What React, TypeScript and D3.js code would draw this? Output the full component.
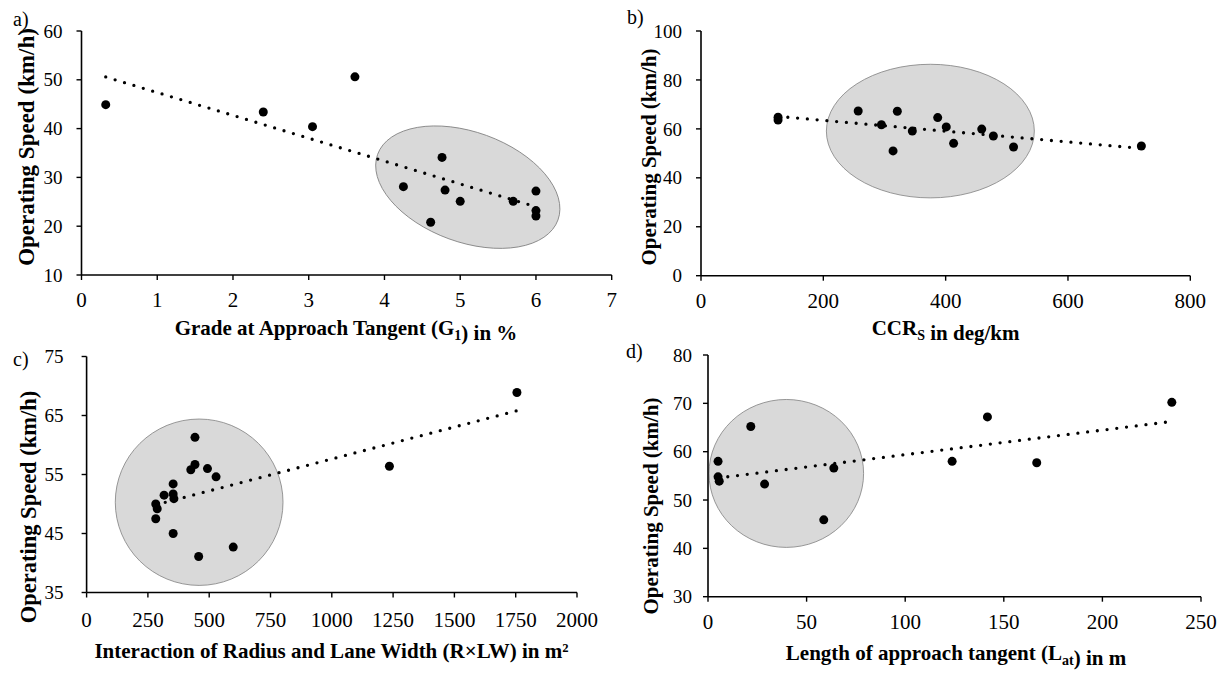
import React from 'react';
import * as d3 from 'd3';

// ---------- data ----------
const gradeX = [0.32, 2.4, 3.05, 3.61, 4.25, 4.76, 4.8, 4.61, 5.0, 5.7, 6.0, 6.0, 6.0];
const gradeY = [44.9, 43.4, 40.4, 50.6, 28.1, 34.1, 27.4, 20.8, 25.1, 25.1, 27.2, 23.2, 22.1];

const ccrX = [126, 126, 257, 321, 295, 314, 345.5, 387, 401, 413, 459, 478, 511, 720];
const ccrY = [64.8, 63.6, 67.3, 67.2, 61.7, 51.0, 59.1, 64.6, 60.8, 54.1, 59.9, 57.1, 52.6, 53.0];

const rlwX = [282, 288, 282, 316, 353, 353, 356, 353, 425, 442, 442, 493, 528, 457, 598, 1235, 1755];
const rlwY = [50.0, 49.2, 47.5, 51.5, 53.4, 51.7, 50.9, 45.0, 55.8, 56.7, 61.3, 56.0, 54.6, 41.1, 42.7, 56.4, 68.9];

const latX = [5.1, 5.1, 5.7, 21.7, 28.7, 58.7, 63.8, 123.8, 141.7, 166.7, 235.2];
const latY = [58.0, 54.8, 53.9, 65.2, 53.3, 45.9, 56.6, 58.0, 67.2, 57.7, 70.2];

const gradeXTicks = [0, 1, 2, 3, 4, 5, 6, 7];
const gradeYTicks = [10, 20, 30, 40, 50, 60];
const ccrXTicks = [0, 200, 400, 600, 800];
const ccrYTicks = [0, 20, 40, 60, 80, 100];
const rlwXTicks = [0, 250, 500, 750, 1000, 1250, 1500, 1750, 2000];
const rlwYTicks = [35, 45, 55, 65, 75];
const latXTicks = [0, 50, 100, 150, 200, 250];
const latYTicks = [30, 40, 50, 60, 70, 80];

// highlighted cluster ellipses: [centerX, centerY, radiusX (x units), radiusY (y units), rotation deg]
const gradeEllipse = [5.1, 28.0, 1.267, 11.27, 20];
const ccrEllipse = [375, 59.1, 170, 27.3, 0];
const rlwEllipse = [459, 50.3, 342, 14.1, 0];
const latEllipse = [39.7, 55.5, 39.2, 15.3, 0];

const panelLabels = ['a)', 'b)', 'c)', 'd)'];
const yTitle = 'Operating Speed (km/h)';

const SERIF = '"Liberation Serif", "Times New Roman", Times, serif';

type Layout = {
  x0: number; x1: number; yTop: number; yBot: number;
  yLabelGap: number; xLabelDy: number;
  lab: [number, number];
  xTitle: [number, number];
  yTitlePos: [number, number];
  yTitleSize: number;
};

function fit(xs: number[], ys: number[]) {
  const mx = d3.mean(xs)!;
  const my = d3.mean(ys)!;
  let sxy = 0, sxx = 0;
  xs.forEach((x, i) => { sxy += (x - mx) * (ys[i] - my); sxx += (x - mx) * (x - mx); });
  const b = sxy / sxx;
  const a = my - b * mx;
  return (x: number) => a + b * x;
}

function Panel(props: {
  xs: number[]; ys: number[]; xTicks: number[]; yTicks: number[];
  ell: number[]; label: string; xTitle: React.ReactNode; L: Layout;
}) {
  const { xs, ys, xTicks, yTicks, ell, label, xTitle, L } = props;
  const x = d3.scaleLinear().domain([xTicks[0], xTicks[xTicks.length - 1]]).range([L.x0, L.x1]);
  const y = d3.scaleLinear().domain([yTicks[0], yTicks[yTicks.length - 1]]).range([L.yBot, L.yTop]);
  const f = fit(xs, ys);
  const [xmin, xmax] = d3.extent(xs) as [number, number];
  const trend = d3.line<number>().x((v) => x(v)).y((v) => y(f(v)))([xmin, xmax]);
  const ecx = x(ell[0]);
  const ecy = y(ell[1]);
  const erx = x(ell[0] + ell[2]) - ecx;
  const ery = ecy - y(ell[1] + ell[3]);
  return (
    <g>
      <ellipse cx={ecx} cy={ecy} rx={erx} ry={ery}
        transform={`rotate(${ell[4]} ${ecx} ${ecy})`}
        fill="#d9d9d9" stroke="#808080" strokeWidth={0.8} />
      {/* axes */}
      <line x1={L.x0} x2={L.x0} y1={L.yTop} y2={L.yBot} stroke="#000" strokeWidth={1.6} />
      <line x1={L.x0} x2={L.x1} y1={L.yBot} y2={L.yBot} stroke="#000" strokeWidth={1.6} />
      {yTicks.map((t) => (
        <g key={'y' + t}>
          <line x1={L.x0 - 5} x2={L.x0} y1={y(t)} y2={y(t)} stroke="#000" strokeWidth={1.4} />
          <text x={L.x0 - L.yLabelGap} y={y(t)} dy="0.35em" textAnchor="end"
            fontFamily={SERIF} fontSize={19}>{t}</text>
        </g>
      ))}
      {xTicks.map((t) => (
        <g key={'x' + t}>
          <line x1={x(t)} x2={x(t)} y1={L.yBot} y2={L.yBot + 5} stroke="#000" strokeWidth={1.4} />
          <text x={x(t)} y={L.yBot + L.xLabelDy} textAnchor="middle"
            fontFamily={SERIF} fontSize={21}>{t}</text>
        </g>
      ))}
      {/* trend */}
      <path d={trend || ''} fill="none" stroke="#000" strokeWidth={3.3}
        strokeLinecap="round" strokeDasharray="0 9.8" />
      {/* points */}
      {xs.map((v, i) => (
        <circle key={i} cx={x(v)} cy={y(ys[i])} r={4.5} fill="#000" />
      ))}
      <text x={L.lab[0]} y={L.lab[1]} fontFamily={SERIF} fontSize={20}>{label}</text>
      <text x={L.xTitle[0]} y={L.xTitle[1]} textAnchor="middle" fontFamily={SERIF}
        fontWeight="bold" fontSize={21}>{xTitle}</text>
      <text transform={`translate(${L.yTitlePos[0]},${L.yTitlePos[1]}) rotate(-90)`}
        textAnchor="middle" fontFamily={SERIF} fontWeight="bold"
        fontSize={L.yTitleSize}>{yTitle}</text>
    </g>
  );
}

const layouts: Layout[] = [
  { x0: 81.5, x1: 611.7, yTop: 31, yBot: 275, yLabelGap: 19, xLabelDy: 32,
    lab: [13, 26], xTitle: [346, 335], yTitlePos: [34, 147], yTitleSize: 23 },
  { x0: 701, x1: 1190.3, yTop: 31, yBot: 275.7, yLabelGap: 19, xLabelDy: 32,
    lab: [627, 24], xTitle: [945.6, 335], yTitlePos: [656, 157], yTitleSize: 21 },
  { x0: 86.6, x1: 577, yTop: 356.5, yBot: 592.5, yLabelGap: 23, xLabelDy: 34,
    lab: [13, 366], xTitle: [331.5, 658], yTitlePos: [36, 507], yTitleSize: 22.5 },
  { x0: 708, x1: 1201, yTop: 355, yBot: 596.7, yLabelGap: 16, xLabelDy: 32.5,
    lab: [626, 358], xTitle: [956, 660], yTitlePos: [658, 506], yTitleSize: 21 },
];

const sub = (s: string) => (
  <>
    <tspan dy={5} fontSize={14}>{s}</tspan>
    <tspan dy={-5}>{''}</tspan>
  </>
);

export default function App() {
  const titles: React.ReactNode[] = [
    <>Grade at Approach Tangent (G{sub('1')}) in %</>,
    <>CCR{sub('S')} in deg/km</>,
    <>Interaction of Radius and Lane Width (R×LW) in m²</>,
    <>Length of approach tangent (L{sub('at')}) in m</>,
  ];
  const sets = [
    [gradeX, gradeY, gradeXTicks, gradeYTicks, gradeEllipse],
    [ccrX, ccrY, ccrXTicks, ccrYTicks, ccrEllipse],
    [rlwX, rlwY, rlwXTicks, rlwYTicks, rlwEllipse],
    [latX, latY, latXTicks, latYTicks, latEllipse],
  ];
  return (
    <svg width={1225} height={673} style={{ position: 'absolute', left: 0, top: 0, background: '#fff' }}>
      <rect width={1225} height={673} fill="#fff" />
      {sets.map((s, i) => (
        <Panel key={i} xs={s[0]} ys={s[1]} xTicks={s[2]} yTicks={s[3]} ell={s[4]}
          label={panelLabels[i]} xTitle={titles[i]} L={layouts[i]} />
      ))}
    </svg>
  );
}
